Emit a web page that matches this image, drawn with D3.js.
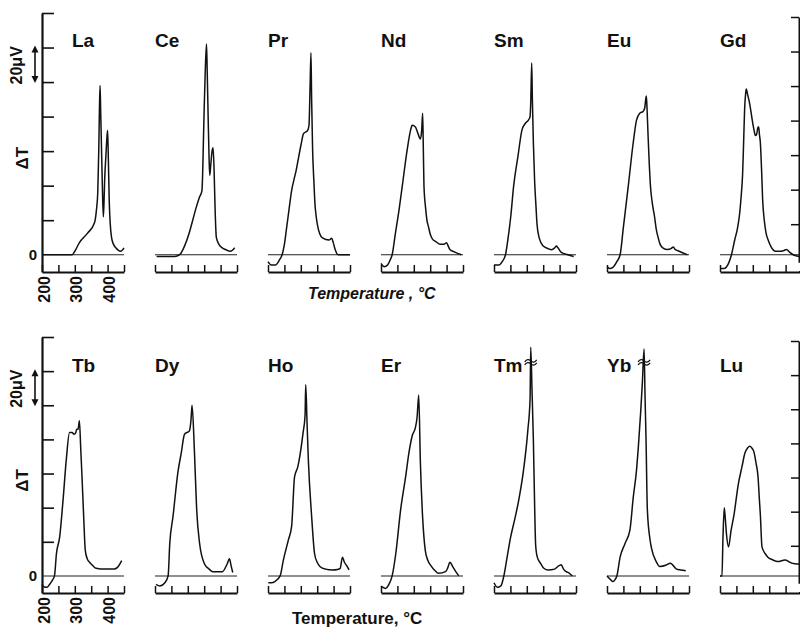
<!DOCTYPE html>
<html>
<head>
<meta charset="utf-8">
<script src="https://cdn.jsdelivr.net/npm/d3@7"></script>
<style>
  body { margin: 0; background: #fff; }
  text { font-family: "Liberation Sans", Arial, sans-serif; font-weight: bold; fill: #111; }
</style>
</head>
<body>
<script>
// DTA curves, temperature (degC) vs delta T (microvolt)
var row1Names = ["La", "Ce", "Pr", "Nd", "Sm", "Eu", "Gd"];
var row2Names = ["Tb", "Dy", "Ho", "Er", "Tm", "Yb", "Lu"];

var la = [[200,0],[292,0],[300,2],[314,7],[339,12.5],[360,18.5],[366,26],[370,36],[373,60],[375,83],[377,98],[379,82],[381,65],[384,40],[387,22],[389,30],[391,43],[395,58],[398,68],[400,72],[402,58],[405,31],[408,18],[412,10],[418,6],[425,4],[440,2],[450,4]];
var ce = [[205,-1],[260,-1],[275,0],[290,5],[305,13],[315,20],[325,27],[335,33],[343,37],[345,45],[347,61],[350,85],[353,105],[357,122],[359,108],[362,80],[365,55],[367,46],[370,52],[374,60],[377,62],[380,50],[383,28],[387,10],[395,6],[405,4],[415,3],[430,2],[443,4]];
var pr = [[200,-4],[210,-6],[222,-6],[235,-3],[243,0],[250,6],[257,16],[264,26],[271,36],[286,49],[301,64],[308,70],[321,72],[325,75],[328,95],[331,117],[333,90],[336,61],[340,42],[343,30],[347,22],[351,17],[358,12],[366,9.7],[386,8.5],[394,9.5],[399,7],[404,3.5],[414,0],[450,0]];
var nd = [[200,-5],[210,-7],[220,-6],[228,-3],[234,0],[244,12.5],[255,26],[265,40],[280,61],[290,72],[295,75],[305,74],[313,70],[320,67],[324,72],[327,82],[329,62],[331,40],[336,27],[340,20],[345,16],[350,12],[357,9],[368,7.5],[380,6],[392,6],[400,7],[405,5],[410,3],[425,1.5],[445,0]];
var sm = [[200,-6],[215,-6],[225,-4],[235,0],[241,7],[251,22],[260,40],[273,57],[285,72],[295,76],[305,78],[310,80],[312,88],[315,111],[317,90],[320,65],[324,42],[328,28],[331,18],[338,9.6],[350,5],[365,3.5],[376,2.9],[385,4],[390,5],[395,4],[405,1.4],[425,0],[443,-1]];
var eu = [[200,-7],[210,-8],[220,-7],[230,-4],[240,0],[250,16],[265,40],[280,65],[290,78],[300,82],[310,83],[315,85],[318,90],[320,92],[322,85],[325,70],[329,52],[332,41],[338,30],[345,22],[350,15],[355,10.6],[362,6],[370,4],[385,3],[395,3.5],[402,4.5],[408,3],[420,2],[445,0]];
var gd = [[200,-8],[212,-8],[226,-5],[235,0],[245,8.7],[253,15],[260,24],[265,35],[269,47],[272,65],[275,84],[278,93],[280,96],[284,93],[290,88],[300,76],[305,71],[308,69],[312,70],[316,74],[318,74],[320,70],[323,65],[327,48],[330,32],[335,20],[340,13],[348,8],[355,4.8],[370,2],[385,2],[395,2.5],[403,3],[412,1.5],[423,0],[442,-1]];
var tb = [[200,-5],[207,-6.5],[215,-6.6],[223,-5],[230,-3],[238,0],[244,13],[254,23],[264,44],[274,68],[284,84],[292,84],[298,83],[303,84],[306,86],[310,86],[314,91],[318,75],[322,58],[327,35],[332,15],[338,10],[345,8],[355,6],[365,4.5],[390,4],[420,4],[430,5],[443,9]];
var dy = [[203,-4.9],[215,-5.9],[230,-4],[240,0],[245,19],[255,35],[270,61],[280,72],[290,83],[305,85],[310,92],[313,100],[320,74],[327,39],[336,19],[351,7],[365,4],[376,2.5],[405,2.5],[420,7],[427,10],[432,6],[437,2]];
var ho = [[201,-4],[210,-4],[221,-3.3],[237,0],[247,9.4],[262,21],[272,29],[281,58],[291,64],[307,84],[313,94],[315,112],[319,90],[323,68],[333,35],[342,13],[350,8],[359,5.4],[375,4],[397,3.5],[412,3.8],[420,4.4],[427,11],[433,8],[440,6],[447,3.5]];
var er = [[200,-6],[214,-7.3],[224,-5],[234,0],[245,13],[260,39],[275,58],[285,72],[295,82],[305,87],[310,93],[315,106],[320,67],[327,34],[335,15],[343,9],[352,6],[365,3],[375,1.5],[397,2.5],[404,5],[410,8],[420,5],[428,2.5],[437,0]];
var tm = [[200,-4],[210,-6.6],[221,-5.8],[230,0],[240,11],[251,23],[263,33],[275,44],[290,62],[303,85],[310,104],[312,134],[316,108],[320,80],[324,40],[327,18],[332,11],[342,7.4],[352,4.5],[365,3.5],[385,4],[398,6],[405,6.5],[412,4],[420,2.5],[429,1.7],[439,0]];
var yb = [[200,0],[210,-2],[218,-3.3],[225,-2],[230,0],[240,11],[255,19],[270,27],[280,46],[290,62],[295,74],[303,97],[308,114],[313,133],[316,105],[319,80],[323,39],[331,21.5],[336,16],[350,8.4],[361,5.5],[381,6.4],[393,7.5],[400,6.5],[412,4],[425,3.5],[440,3]];
var lu = [[200,0],[206,0],[209,22],[213,40],[216,34],[220,24],[226,17],[234,27],[242,35],[256,54],[267,64],[276,72],[284,75],[291,76],[297,75],[303,73],[310,66],[316,58],[320,45],[323,36],[328,17],[338,13],[346,11],[360,9.5],[376,8.4],[390,9],[399,9.4],[410,8.3],[419,7.5],[435,7],[448,7]];

var row1Series = [la, ce, pr, nd, sm, eu, gd];
var row2Series = [tb, dy, ho, er, tm, yb, lu];
var breakMarks = [["Tm", 126], ["Yb", 126]];

var xTicks = [200, 250, 300, 350, 400, 450];
var xTickLabels = [200, 300, 400];
var yTicks = [20, 40, 60, 80, 100, 120, 140];

var width = 800, height = 628;
var svg = d3.select("body").append("svg")
    .attr("width", width)
    .attr("height", height);

var panelX = d3.scaleLinear().domain([0, 6]).range([42, 720]);
var panelW = 82;
var rightAxisX = 799;

var rows = [
  {names: row1Names, series: row1Series, top: 13, bottom: 272, italic: true, title: "Temperature , °C", titleX: 308, titleY: 299, titleSize: 16},
  {names: row2Names, series: row2Series, top: 337, bottom: 593, italic: false, title: "Temperature,  °C", titleX: 292, titleY: 624, titleSize: 17}
];

rows.forEach(function(row) {
  var y = d3.scaleLinear().domain([-10, 140]).range([row.bottom, row.top]);
  var g = svg.append("g");

  // left delta T axis
  g.append("g")
    .attr("transform", "translate(" + panelX(0) + ",0)")
    .call(d3.axisRight(y).tickValues(yTicks).tickSize(12).tickSizeOuter(0).tickFormat(""))
    .call(function(a) {
      a.select(".domain").attr("stroke", "#111").attr("stroke-width", 2.2);
      a.selectAll(".tick line").attr("stroke", "#111").attr("stroke-width", 1.6);
    });

  // right axis (slightly offset, like the print)
  var yr = d3.scaleLinear().domain([-2, 140]).range([y(-2) + 4, y(140) + 4]);
  g.append("g")
    .attr("transform", "translate(" + rightAxisX + ",0)")
    .call(d3.axisLeft(yr).tickValues(yTicks).tickSize(8).tickSizeOuter(0).tickFormat(""))
    .call(function(a) {
      a.select(".domain").attr("stroke", "#111").attr("stroke-width", 2);
      a.selectAll(".tick line").attr("stroke", "#111").attr("stroke-width", 1.5);
    });

  // "0" label, delta T and 20 microvolt scale
  g.append("text")
    .attr("x", 33).attr("y", y(0))
    .attr("text-anchor", "middle").attr("dominant-baseline", "central")
    .style("font-size", "15px")
    .text("0");

  var arrowTop = y(120) - 2, arrowBot = y(100) + 1;
  g.append("text")
    .attr("transform", "translate(16," + ((arrowTop + arrowBot) / 2 + 1) + ") rotate(-90)")
    .attr("text-anchor", "middle").attr("dominant-baseline", "central")
    .style("font-size", "16px")
    .text("20μV");

  g.append("text")
    .attr("transform", "translate(22," + (y(60) + 7) + ") rotate(-90)")
    .attr("text-anchor", "middle").attr("dominant-baseline", "central")
    .style("font-size", "17px")
    .text("ΔT");

  g.append("line")
    .attr("x1", 35).attr("x2", 35)
    .attr("y1", arrowTop + 4).attr("y2", arrowBot - 4)
    .attr("stroke", "#111").attr("stroke-width", 1.6);
  [[arrowTop, 1], [arrowBot, -1]].forEach(function(a) {
    g.append("path")
      .attr("d", "M35," + a[0] + "L31.5," + (a[0] + 7 * a[1]) + "L38.5," + (a[0] + 7 * a[1]) + "Z")
      .attr("fill", "#111");
  });

  row.names.forEach(function(name, i) {
    var p = panelX(i);
    var x = d3.scaleLinear().domain([200, 450]).range([p, p + panelW]);
    var last = i === row.names.length - 1;
    var pg = g.append("g");

    // zero line
    pg.append("line")
      .attr("x1", x(200)).attr("x2", last ? rightAxisX : x(450))
      .attr("y1", y(0)).attr("y2", y(0))
      .attr("stroke", "#222").attr("stroke-width", 1.1);

    // temperature axis
    pg.append("g")
      .attr("transform", "translate(0," + y(-10) + ")")
      .call(d3.axisTop(x).tickValues(xTicks).tickSize(7).tickSizeOuter(0).tickFormat(""))
      .call(function(a) {
        a.select(".domain").attr("stroke", "#111").attr("stroke-width", 2);
        a.selectAll(".tick line").attr("stroke", "#111").attr("stroke-width", 1.5);
      });
    if (last) {
      pg.append("line")
        .attr("x1", x(450)).attr("x2", rightAxisX)
        .attr("y1", y(-10)).attr("y2", y(-10))
        .attr("stroke", "#111").attr("stroke-width", 2);
    }

    if (i === 0) {
      pg.selectAll(".tlab")
        .data(xTickLabels)
        .enter().append("text")
        .attr("transform", function(d) { return "translate(" + (x(d) + 2) + "," + (y(-10) + 4) + ") rotate(-90)"; })
        .attr("text-anchor", "end").attr("dominant-baseline", "central")
        .style("font-size", "16px")
        .text(function(d) { return d; });
    }

    // curve
    var line = d3.line()
      .x(function(d) { return x(d[0]); })
      .y(function(d) { return y(d[1]); })
      .curve(d3.curveMonotoneX);
    pg.append("path")
      .datum(row.series[i])
      .attr("d", line)
      .attr("fill", "none")
      .attr("stroke", "#111")
      .attr("stroke-width", 1.5)
      .attr("stroke-linejoin", "round");

    // off-scale break marks
    breakMarks.filter(function(b) { return b[0] === name; }).forEach(function(b) {
      var pk = row.series[i].reduce(function(m, d) { return d[1] > m[1] ? d : m; });
      var cx = x(pk[0]), cy = y(b[1]);
      pg.append("path")
        .attr("d", "M" + (cx - 6) + "," + (cy + 1) + "q3,-4 6,-1 t6,-1 M" + (cx - 6) + "," + (cy + 4) + "q3,-4 6,-1 t6,-1")
        .attr("fill", "none").attr("stroke", "#111").attr("stroke-width", 1.3);
    });

    // element symbol
    pg.append("text")
      .attr("x", i === 0 ? p + 30 : p)
      .attr("y", row.top + 34 + (row.italic ? 0 : 1))
      .style("font-size", "19px")
      .text(name);
  });

  svg.append("text")
    .attr("x", row.titleX).attr("y", row.titleY)
    .style("font-size", row.titleSize + "px")
    .style("font-style", row.italic ? "italic" : "normal")
    .text(row.title);
});
</script>
</body>
</html>
